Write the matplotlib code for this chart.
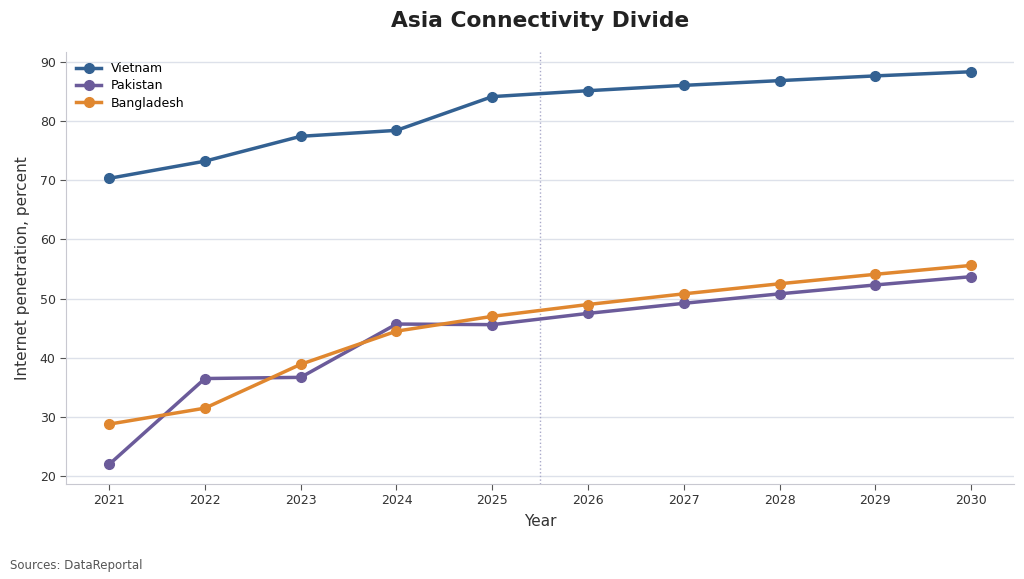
import matplotlib
matplotlib.use("Agg")
import matplotlib.pyplot as plt

years = [2021, 2022, 2023, 2024, 2025, 2026, 2027, 2028, 2029, 2030]
vietnam = [70.3, 73.2, 77.4, 78.4, 84.1, 85.1, 86.0, 86.8, 87.6, 88.3]
pakistan = [22.0, 36.5, 36.7, 45.7, 45.6, 47.5, 49.2, 50.8, 52.3, 53.7]
bangladesh = [28.8, 31.5, 38.9, 44.5, 47.0, 49.0, 50.8, 52.5, 54.1, 55.6]
series_names = ["Vietnam", "Pakistan", "Bangladesh"]
colors = ["#336192", "#6b5b9a", "#e0872f"]
divider_year = 2025.5

fig = plt.figure(figsize=(10.24, 5.79), dpi=100)
ax = fig.add_axes([0.0645, 0.164, 0.926, 0.746])

for name, vals, c in zip(series_names, [vietnam, pakistan, bangladesh], colors):
    ax.plot(years, vals, color=c, linewidth=2.5, marker="o", markersize=7, label=name, zorder=3)

ax.axvline(divider_year, color="#a9a9c9", linestyle=":", linewidth=1, zorder=1)

ax.set_xticks(years)
ax.set_xticklabels([str(y) for y in years])
ax.set_yticks([20, 30, 40, 50, 60, 70, 80, 90])
ax.grid(axis="y", color="#dde1ea", linewidth=1)
ax.set_axisbelow(True)
for s in ["top", "right"]:
    ax.spines[s].set_visible(False)
for s in ["left", "bottom"]:
    ax.spines[s].set_color("#c8c8d0")
ax.tick_params(axis="both", labelsize=9, colors="#333333", length=4)
ax.tick_params(axis="both", color="#555555")

ax.set_xlabel("Year", fontsize=11, color="#333333", labelpad=5)
ax.set_ylabel("Internet penetration, percent", fontsize=11, color="#333333", labelpad=7)

ax.set_title("Asia Connectivity Divide", fontsize=15.7, fontweight="bold", color="#222222", pad=18)

leg = ax.legend(loc="upper left", frameon=False, fontsize=9, handlelength=2.0,
                labelspacing=0.35, borderaxespad=0.4)

fig.text(0.01, 0.018, "Sources: DataReportal", fontsize=8.5, color="#555555")

fig.savefig("out.png", dpi=100)
